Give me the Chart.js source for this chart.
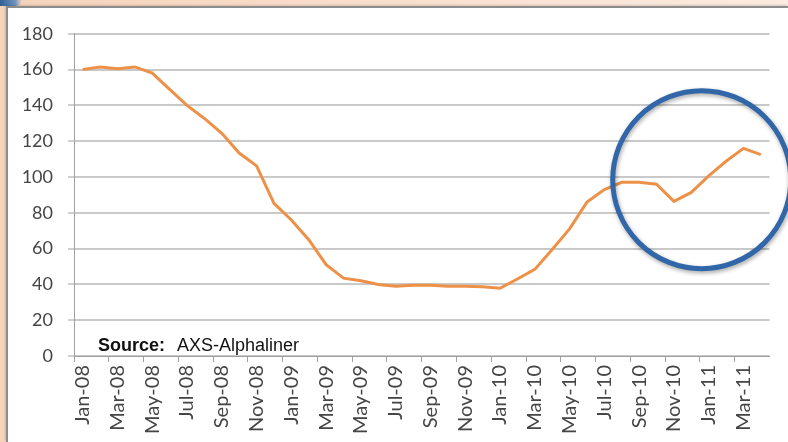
<!DOCTYPE html>
<html>
<head>
<meta charset="utf-8">
<script src="https://cdn.jsdelivr.net/npm/chart.js@4.4.1/dist/chart.umd.min.js"></script>
<style>
    html, body {
        margin: 0;
        padding: 0;
        width: 788px;
        height: 442px;
        overflow: hidden;
        background: linear-gradient(to right, #f6d3bb, #fcebe0);
    }
    #corner {
        position: absolute;
        left: 0;
        top: 0;
        width: 22px;
        height: 6px;
        background: linear-gradient(to right, #2f5f96, #6f95c0 70%, rgba(255,255,255,0));
        border-bottom-right-radius: 14px;
    }
    #frame {
        position: absolute;
        left: 6px;
        top: 6px;
        width: 780px;
        height: 434px;
        background: #ffffff;
        border-left: 2px solid #8c8c8c;
        border-top: 2px solid #8c8c8c;
        box-shadow: -1px -1px 2px rgba(0,0,0,0.15);
    }
    #chartCanvas {
        display: block;
    }
    #source {
        position: absolute;
        left: 90px;
        top: 327px;
        font-family: "Liberation Sans", Arial, sans-serif;
        font-size: 18px;
        color: #111111;
        white-space: nowrap;
    }
    #source b {
        margin-right: 12px;
    }
</style>
</head>
<body>
<div id="corner"></div>
<div id="frame">
    <canvas id="chartCanvas" width="780" height="434"></canvas>
    <div id="source"><b>Source:</b>AXS-Alphaliner</div>
</div>
<script>
// Monthly categories, Jan-08 .. Apr-11
const months = [
    'Jan-08', 'Feb-08', 'Mar-08', 'Apr-08', 'May-08', 'Jun-08', 'Jul-08', 'Aug-08', 'Sep-08', 'Oct-08', 'Nov-08', 'Dec-08',
    'Jan-09', 'Feb-09', 'Mar-09', 'Apr-09', 'May-09', 'Jun-09', 'Jul-09', 'Aug-09', 'Sep-09', 'Oct-09', 'Nov-09', 'Dec-09',
    'Jan-10', 'Feb-10', 'Mar-10', 'Apr-10', 'May-10', 'Jun-10', 'Jul-10', 'Aug-10', 'Sep-10', 'Oct-10', 'Nov-10', 'Dec-10',
    'Jan-11', 'Feb-11', 'Mar-11', 'Apr-11'
];

// Values
const values = [
    160, 161.5, 160.5, 161.5, 158, 149, 140, 132.7, 124.4, 113.4, 106.2, 85.3,
    76, 65, 51, 43.5, 42, 40, 39, 39.5, 39.5, 39, 39, 38.7,
    37.8, 43, 48.4, 59.5, 71, 86, 93, 97, 97, 96, 86.4, 91.4,
    100.6, 108.8, 116, 112.5
];

// Y axis range
const yMin = 0;
const yMax = 180;
const yStep = 20;

// Highlight circle around the recent rebound (category index, value)
const highlightAt = { index: 35.6, value: 98.5 };

const lineColor = '#ee9148';
const gridColor = '#c9c9c9';
const axisColor = '#a0a0a0';
const labelColor = '#454545';

// Draws the blue highlight ring, centred through the chart's own scales
const highlightPlugin = {
    id: 'highlight',
    afterDraw(chart) {
        const x = chart.scales.x;
        const y = chart.scales.y;
        const step = x.getPixelForValue(1) - x.getPixelForValue(0);
        const cx = x.getPixelForValue(0) + highlightAt.index * step;
        const cy = y.getPixelForValue(highlightAt.value);
        const ctx = chart.ctx;
        ctx.save();
        ctx.shadowColor = 'rgba(0,0,0,0.35)';
        ctx.shadowBlur = 4;
        ctx.shadowOffsetX = 1;
        ctx.shadowOffsetY = 2;
        ctx.strokeStyle = '#3167a8';
        ctx.lineWidth = 5;
        ctx.beginPath();
        ctx.arc(cx, cy, 89, 0, Math.PI * 2);
        ctx.stroke();
        ctx.restore();
    }
};

new Chart(document.getElementById('chartCanvas').getContext('2d'), {
    type: 'line',
    data: {
        labels: months,
        datasets: [{
            data: values,
            borderColor: lineColor,
            borderWidth: 3,
            pointRadius: 0,
            tension: 0,
            fill: false
        }]
    },
    options: {
        responsive: false,
        animation: false,
        events: [],
        layout: {
            padding: { left: 0, top: 21, right: 13, bottom: 0 }
        },
        plugins: {
            legend: { display: false },
            tooltip: { enabled: false },
            title: { display: false }
        },
        scales: {
            x: {
                type: 'category',
                offset: true,
                afterFit: (scale) => { scale.height = 86; },
                grid: {
                    offset: true,
                    drawOnChartArea: false,
                    drawTicks: true,
                    tickLength: 6,
                    color: (ctx) => (ctx.index % 2 === 0 ? axisColor : 'rgba(0,0,0,0)')
                },
                border: { display: true, color: axisColor, width: 1 },
                ticks: {
                    autoSkip: false,
                    minRotation: 90,
                    maxRotation: 90,
                    padding: 3,
                    color: labelColor,
                    font: { family: 'Lato', size: 20 },
                    callback: function (value, index) {
                        return index % 2 === 0 ? this.getLabelForValue(value) : '';
                    }
                }
            },
            y: {
                min: yMin,
                max: yMax,
                afterFit: (scale) => { scale.width = 66; },
                grid: {
                    color: gridColor,
                    lineWidth: 2,
                    drawTicks: true,
                    tickLength: 6,
                    tickColor: axisColor,
                    tickWidth: 1
                },
                border: { display: true, color: axisColor, width: 1 },
                ticks: {
                    stepSize: yStep,
                    padding: 15,
                    color: labelColor,
                    font: { family: 'Lato', size: 18 }
                }
            }
        }
    },
    plugins: [highlightPlugin]
});
</script>
</body>
</html>
